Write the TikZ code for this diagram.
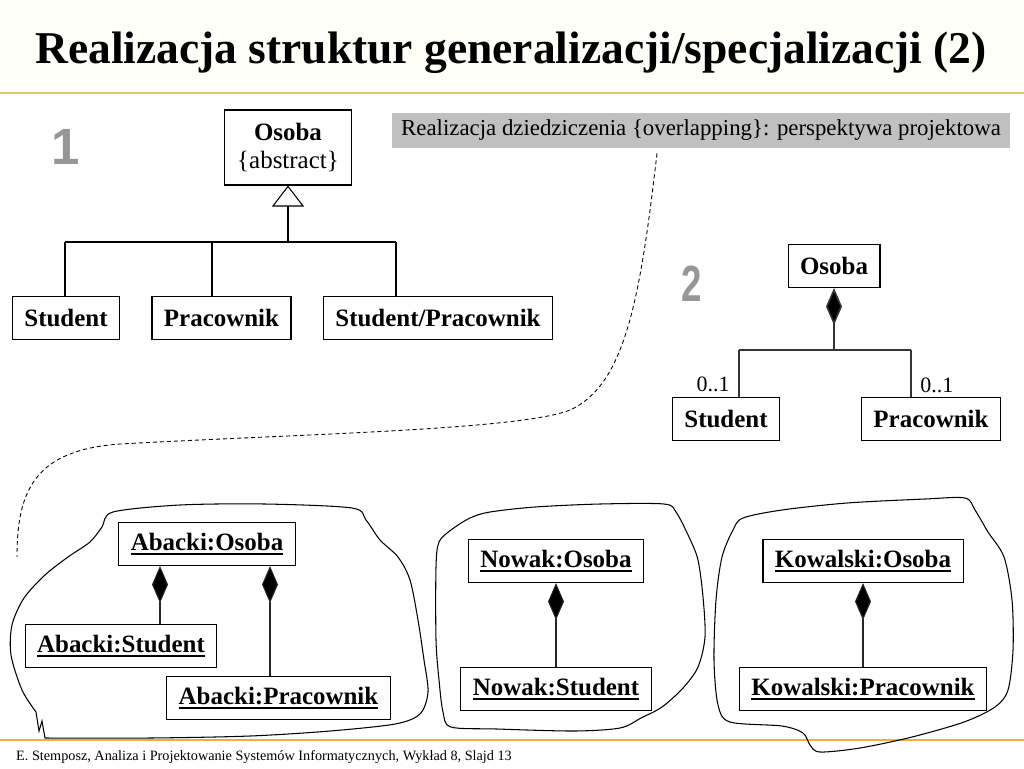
\documentclass[tikz,border=0pt]{standalone}
\usepackage{fontspec}
\setmainfont{Liberation Serif}
\newfontfamily\numfont{Liberation Sans}
\usetikzlibrary{arrows.meta,positioning,calc}

\definecolor{headbg}{RGB}{255,255,249}
\definecolor{headline}{RGB}{232,196,120}
\definecolor{footline}{RGB}{242,172,64}
\definecolor{notegray}{RGB}{192,192,192}
\definecolor{numgray}{RGB}{150,150,150}

\newcommand{\uln}[1]{\setbox0=\hbox{#1}\rlap{\rule[-2.6pt]{\wd0}{1.2pt}}\box0}

\begin{document}
\begin{tikzpicture}[x=0.02cm, y=-0.02cm,
    classbox/.style={draw, line width=0.6pt, font=\fontsize{14.2}{17}\selectfont\bfseries,
      minimum height=0.86cm, inner xsep=0.24cm, inner ysep=0pt},
    objbox/.style={classbox},
    note/.style={fill=notegray, minimum width=12.36cm, minimum height=0.7cm, inner sep=0pt,
      font=\fontsize{13}{15}\selectfont},
    mult/.style={font=\fontsize{12.5}{14}\selectfont, inner sep=0pt},
    gen/.style={-{Triangle[open, fill=white, length=0.42cm, width=0.64cm]}, line width=0.6pt},
    comp/.style={{Diamond[length=0.74cm, width=0.32cm, fill=black]}-, line width=0.6pt, draw=black!85},
    link/.style={line width=0.6pt},
    blob/.style={draw, line width=0.6pt},
    number/.style={font=\numfont\fontsize{29}{30}\selectfont\bfseries, text=numgray, inner sep=0pt},
    title/.style={font=\fontsize{25.9}{28}\selectfont\bfseries},
    caption/.style={font=\fontsize{8.1}{10}\selectfont},
]
\useasboundingbox (0,0) rectangle (1024,768);

% Header and footer
\fill[headbg] (0,0) rectangle (1024,92);
\draw[headline, line width=1.2pt] (0,93) -- (1024,93);
\draw[footline, line width=1.2pt] (0,740) -- (1024,740);
\node[title, anchor=base] (title) at (511,63) {Realizacja struktur generalizacji/specjalizacji (2)};
\node[caption, anchor=base west] (footer) at (10,760) {E. Stemposz, Analiza i Projektowanie Systemów Informatycznych, Wykład 8, Slajd 13};

% Variant 1: generalization
\node[number] (num1) at (66,147) {1};
\node[classbox, align=center, minimum width=2.54cm, minimum height=1.5cm] (osoba1) at (288,147.5)
  {Osoba\\[-1pt]\mdseries\{abstract\}};
\node[classbox] (student1) at (66,318) {Student};
\node[classbox] (pracownik1) at (221.5,318) {Pracownik};
\node[classbox] (studprac1) at (438,318) {Student/Pracownik};

\coordinate (bar1) at (288,242);
\coordinate (j1a) at (65,242);
\coordinate (j1b) at (212,242);
\coordinate (j1c) at (396,242);
\draw[gen] (bar1) -- (osoba1);
\draw[link] (j1a) -- (j1c);
\draw[link] (j1a) -- (j1a |- student1.north);
\draw[link] (j1b) -- (j1b |- pracownik1.north);
\draw[link] (j1c) -- (j1c |- studprac1.north);

% Note and its dashed pointer
\node[note] (note) at (701,130.5) {Realizacja dziedziczenia \{overlapping\}: perspektywa projektowa};
\coordinate (dashend) at (17,557);
\draw[dash pattern=on 2.3pt off 1.7pt, line width=0.5pt]
  ($(note.south)+(-44,5)$) .. controls (640,300) and (625,385) .. (570,410)
  .. controls (520,430) and (300,434) .. (120,444)
  .. controls (35,450) and (17,490) .. (dashend);

% Variant 2: composition
\node[number] (num2) at (692,284) {\scalebox{0.72}[1]{2}};
\node[classbox] (osoba2) at (834,266) {Osoba};
\node[classbox] (student2) at (726,419) {Student};
\node[classbox] (pracownik2) at (931,419) {Pracownik};
\coordinate (bar2) at (834,350);
\coordinate (j2a) at (739,350);
\coordinate (j2b) at (911,350);
\draw[comp, line width=0.9pt, draw=black!80] (osoba2) -- (bar2);
\draw[link, draw=black!80, line width=0.9pt] (j2a) -- (j2b);
\draw[link, draw=black!80, line width=0.9pt] (j2a) -- (j2a |- student2.north);
\draw[link, draw=black!80, line width=0.9pt] (j2b) -- (j2b |- pracownik2.north);
\node[mult, anchor=base east] (m1) at (730,391) {0..1};
\node[mult, anchor=base west] (m2) at (920,392) {0..1};

% Object diagrams
\draw[blob] plot[smooth, tension=0.5] coordinates {
  (36,712) (22,690) (11,655) (12,625) (24,598) (45,575) (68,557) (90,542) (102,527)
  (113,512) (180,505) (265,504) (352,508) (366,520) (380,540) (398,557) (410,580)
  (418,620) (424,660) (428,692) (420,714) (395,724) (330,731) (250,736) (150,738) (45,738)}
  -- (42,721) -- (39,731) -- cycle;
\draw[blob] plot[smooth cycle, tension=0.5] coordinates {
  (451,530) (470,518) (490,512) (535,507) (600,504) (664,504) (676,512) (689,537)
  (698,560) (703,597) (705,637) (698,667) (683,688) (662,707) (641,718) (620,728)
  (574,731) (497,729) (451,727) (443,712) (439,680) (436,640) (436,567) (439,542)};
\draw[blob] plot[smooth cycle, tension=0.5] coordinates {
  (733,530) (743,518) (782,510) (847,503) (925,499) (965,498) (975,510) (988,532)
  (1004,557) (1012,600) (1013,650) (1008,690) (995,707) (964,722) (912,737) (860,748)
  (820,752) (810,745) (803,733) (782,726) (730,722) (718,705) (714,660) (716,600)
  (722,557)};

\node[objbox] (abO) at (207,544) {\uln{Abacki:Osoba}};
\node[objbox] (abS) at (121,646) {\uln{Abacki:Student}};
\node[objbox] (abP) at (278.5,698) {\uln{Abacki:Pracownik}};
\coordinate (ab1) at (160,600);
\coordinate (ab2) at (270,600);
\draw[comp] (abO.south -| ab1) -- (abS.north -| ab1);
\draw[comp] (abO.south -| ab2) -- (abP.north -| ab2);

\node[objbox] (nO) at (556,561) {\uln{Nowak:Osoba}};
\node[objbox] (nS) at (556,689) {\uln{Nowak:Student}};
\draw[comp] (nO) -- (nS);

\node[objbox] (kO) at (863,561) {\uln{Kowalski:Osoba}};
\node[objbox] (kP) at (863,689) {\uln{Kowalski:Pracownik}};
\draw[comp] (kO) -- (kP);

\end{tikzpicture}
\end{document}
